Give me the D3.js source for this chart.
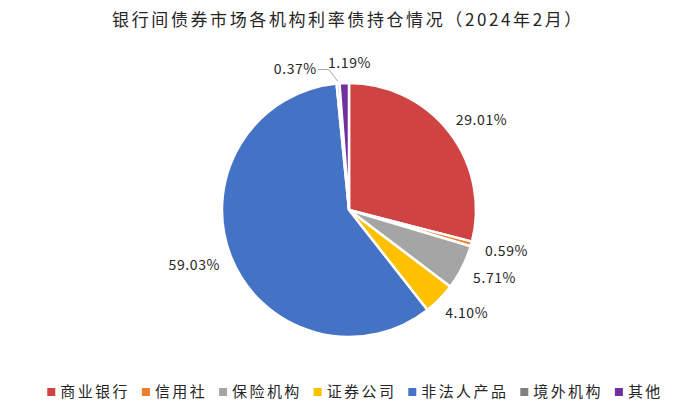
<!DOCTYPE html>
<html><head><meta charset="utf-8">
<script src="https://cdn.jsdelivr.net/npm/d3@7"></script>
<style>body{margin:0;background:#fff;} svg{font-family:"Noto Sans CJK SC","Noto Sans",sans-serif;}</style>
</head><body>
<svg id="c" width="700" height="420"></svg>
<script>
const title = "银行间债券市场各机构利率债持仓情况（2024年2月）";
const categories = ["商业银行","信用社","保险机构","证券公司","非法人产品","境外机构","其他"];
const values = [29.01, 0.59, 5.71, 4.10, 59.03, 0.37, 1.19];
const colors = ["#d04343","#ed7d31","#a5a5a5","#ffc000","#4472c4","#7f7f7f","#7030a0"];

const svg = d3.select("#c");
const cx = 349, cy = 210, R = 127;

svg.append("text").attr("x", 348).attr("y", 26).attr("text-anchor","middle")
  .attr("font-size", 17).attr("letter-spacing", 2.6).attr("fill","#262626").text(title);

const pie = d3.pie().sort(null).value(d => d)(values);
const arc = d3.arc().innerRadius(0).outerRadius(R);
const g = svg.append("g").attr("transform", `translate(${cx},${cy})`);
g.selectAll("path").data(pie).join("path")
  .attr("d", arc).attr("fill", (d,i) => colors[i])
  .attr("stroke", "#fff").attr("stroke-width", 2.5).attr("stroke-linejoin","round");

// labels
const nudges = [[-3,-5,"start"],[2,4,"start"],[0,5,"start"],[-3,6,"start"],[0,3,"end"],[null],[null]];
pie.forEach((d,i) => {
  const a = (d.startAngle + d.endAngle)/2;
  const r = R + 12;
  let x = Math.sin(a)*r, y = -Math.cos(a)*r;
  let anchor = "start";
  if (i === 5) { // leader line label
    const ex = Math.sin(a)*(R+2), ey = -Math.cos(a)*(R+2);
    g.append("polyline").attr("points", `${ex},${ey} ${ex-9},${ey-12} ${ex-20},${ey-12}`)
      .attr("fill","none").attr("stroke","#a6a6a6").attr("stroke-width",1);
    x = ex - 21; y = ey - 12; anchor = "end";
  } else if (i === 6) {
    x = Math.sin(a)*(R+20) + 6; y = -Math.cos(a)*(R+20); anchor = "middle";
  } else {
    x += nudges[i][0]; y += nudges[i][1]; anchor = nudges[i][2];
  }
  g.append("text").attr("x", x).attr("y", y).attr("dy","0.35em")
    .attr("text-anchor", anchor).attr("font-size", 14).attr("letter-spacing", 0.6)
    .attr("fill","#262626").text(values[i].toFixed(2) + "%");
});

// legend
const lg = svg.append("g");
let xpos = 0;
categories.forEach((c,i) => {
  const item = lg.append("g").attr("transform", `translate(${xpos},0)`);
  item.append("rect").attr("x",0).attr("y",-4).attr("width",8).attr("height",8).attr("fill",colors[i]);
  const t = item.append("text").attr("x", 13).attr("y", 0).attr("dy","0.35em")
    .attr("font-size", 15).attr("letter-spacing", 2.4).attr("fill","#262626").text(c);
  xpos += 13 + t.node().getComputedTextLength() + 12;
});
const total = xpos - 12;
lg.attr("transform", `translate(${355 - total/2},392)`);
</script>
</body></html>
